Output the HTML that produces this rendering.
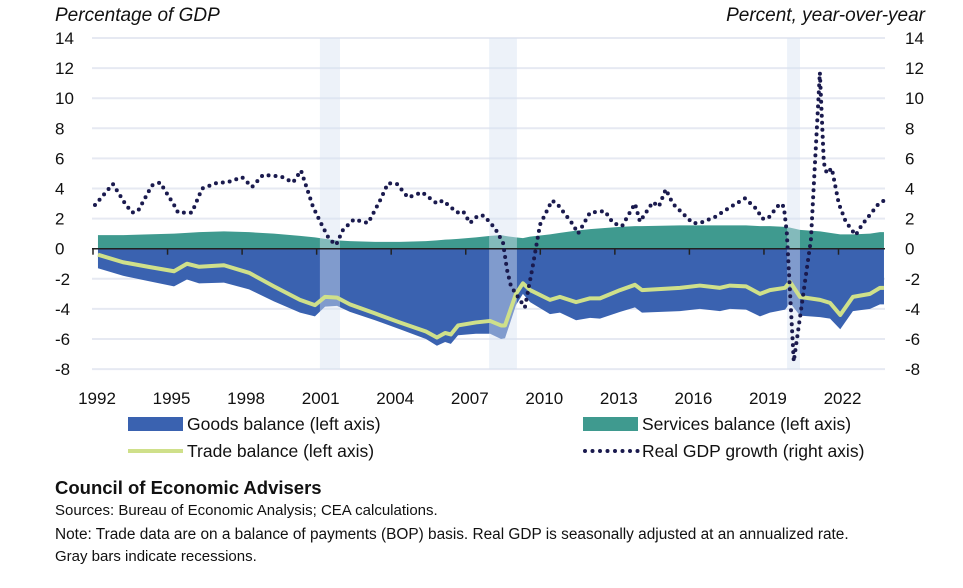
<!DOCTYPE html>
<html><head><meta charset="utf-8"><style>
body{margin:0;background:#fff;font-family:"Liberation Sans",sans-serif;}
svg text{font-family:"Liberation Sans",sans-serif;fill:#111;}
</style></head><body>
<svg id="chart" width="963" height="583" viewBox="0 0 963 583" xmlns="http://www.w3.org/2000/svg">
<text x="55" y="21" font-size="19" font-style="italic">Percentage of GDP</text>
<text x="925" y="21" font-size="19" font-style="italic" text-anchor="end">Percent, year-over-year</text>
<g id="grid"></g><g id="areas"></g><g id="rec"></g><g id="axis"></g><g id="lines"></g>
<g>
<rect x="128" y="417" width="55" height="14" fill="#3a62b0"/>
<text x="187" y="430" font-size="17.5">Goods balance (left axis)</text>
<rect x="583" y="417" width="55" height="14" fill="#3f9a8f"/>
<text x="642" y="430" font-size="17.5">Services balance (left axis)</text>
<line x1="128" y1="451" x2="183" y2="451" stroke="#cfe08a" stroke-width="4"/>
<text x="187" y="457" font-size="17.5">Trade balance (left axis)</text>
<line x1="585" y1="451" x2="638" y2="451" stroke="#1a1a4e" stroke-width="4" stroke-linecap="round" stroke-dasharray="0 7.5"/>
<text x="642" y="457" font-size="17.5">Real GDP growth (right axis)</text>
</g>
<text x="55" y="494" font-size="18.5" font-weight="bold">Council of Economic Advisers</text>
<text x="55" y="515" font-size="15">Sources: Bureau of Economic Analysis; CEA calculations.</text>
<text x="55" y="539" font-size="15.4">Note: Trade data are on a balance of payments (BOP) basis. Real GDP is seasonally adjusted at an annualized rate.</text>
<text x="55" y="561" font-size="15">Gray bars indicate recessions.</text>
</svg>
<script>
const years=[1992.2,1993.21,1994.21,1995.26,1995.78,1996.27,1997.27,1998.28,1999.28,2000.33,2000.93,2001.34,2001.82,2002.34,2003.35,2004.35,2005.40,2005.84,2006.17,2006.4,2006.69,2007.41,2007.98,2008.42,2008.58,2009.02,2009.30,2009.59,2010.39,2010.79,2011.44,2012.0,2012.4,2013.21,2013.81,2014.09,2015.62,2016.42,2017.23,2017.63,2018.28,2018.84,2019.24,2019.85,2020.05,2020.45,2021.26,2021.66,2022.07,2022.58,2023.27,2023.67,2023.83];
const services=[0.9,0.9,0.95,1.0,1.05,1.1,1.15,1.1,1.0,0.85,0.75,0.65,0.55,0.5,0.45,0.45,0.5,0.55,0.6,0.62,0.65,0.75,0.85,0.9,0.85,0.75,0.7,0.8,0.95,1.05,1.2,1.3,1.35,1.45,1.5,1.5,1.55,1.55,1.55,1.55,1.55,1.5,1.5,1.45,1.4,1.25,1.15,1.05,0.95,0.95,1.0,1.1,1.1];
const goods=[-1.3,-1.8,-2.15,-2.5,-2.05,-2.3,-2.25,-2.7,-3.5,-4.25,-4.5,-3.85,-3.8,-4.2,-4.75,-5.35,-6.0,-6.45,-6.2,-6.32,-5.75,-5.65,-5.65,-6.0,-5.95,-3.75,-3.0,-3.55,-4.35,-4.25,-4.75,-4.6,-4.65,-4.2,-3.9,-4.25,-4.15,-4.0,-4.15,-4.0,-4.05,-4.5,-4.25,-4.05,-3.6,-4.45,-4.55,-4.65,-5.35,-4.15,-4.0,-3.7,-3.7];
const trade=[-0.4,-0.9,-1.2,-1.5,-1.0,-1.2,-1.1,-1.6,-2.5,-3.4,-3.75,-3.2,-3.25,-3.7,-4.3,-4.9,-5.5,-5.9,-5.6,-5.7,-5.1,-4.9,-4.8,-5.1,-5.1,-3.0,-2.3,-2.75,-3.4,-3.2,-3.55,-3.3,-3.3,-2.75,-2.4,-2.75,-2.6,-2.45,-2.6,-2.45,-2.5,-3.0,-2.75,-2.6,-2.2,-3.2,-3.4,-3.6,-4.4,-3.2,-3.0,-2.6,-2.6];
const gdpYears=[1992.08,1992.8,1993.29,1993.57,1993.81,1994.37,1994.7,1995.3,1995.42,1995.98,1996.39,1997.03,1997.39,1998.0,1998.4,1998.84,1999.57,2000.05,2000.37,2000.61,2000.85,2001.17,2001.5,2001.78,2002.06,2002.5,2003.07,2003.55,2003.87,2004.23,2004.68,2005.24,2005.84,2006.08,2006.65,2006.89,2007.17,2007.49,2007.73,2008.18,2008.5,2008.66,2008.82,2009.38,2009.67,2009.99,2010.47,2010.67,2011.32,2011.52,2012.0,2012.6,2012.93,2013.29,2013.81,2014.01,2014.53,2014.77,2015.05,2015.33,2016.13,2016.42,2017.02,2017.63,2018.24,2018.72,2018.92,2019.16,2019.64,2019.8,2019.92,2020.2,2020.89,2021.01,2021.25,2021.41,2021.53,2021.73,2022.01,2022.29,2022.69,2022.93,2023.62,2023.83];
const gdp=[2.9,4.3,3.0,2.4,2.5,4.2,4.4,2.8,2.4,2.4,4.0,4.4,4.4,4.75,4.1,4.9,4.8,4.4,5.2,4.0,2.8,1.7,0.65,0.25,1.25,1.95,1.7,3.2,4.35,4.3,3.4,3.75,3.0,3.2,2.4,2.5,1.7,2.2,2.2,1.35,0.4,-1.4,-2.5,-3.9,-1.4,1.6,3.2,3.0,1.6,1.0,2.4,2.5,1.7,1.5,3.0,1.8,3.1,2.8,3.95,3.0,1.7,1.7,2.1,2.75,3.35,2.6,2.0,2.0,3.0,2.8,1.05,-7.5,0.6,4.35,11.7,5.7,5.0,5.35,3.0,1.8,0.9,1.55,3.0,3.2];
const recessions=[[2001.13,2001.94],[2007.94,2009.06],[2019.93,2020.45]];
const yTicks=[14,12,10,8,6,4,2,0,-2,-4,-6,-8];
const xTicks=[1992,1995,1998,2001,2004,2007,2010,2013,2016,2019,2022];

const NS='http://www.w3.org/2000/svg';
const X=yr=>93+24.85*(yr-1992);
const Y=v=>248.7-15.05*v;
const PL=92,PR=885;
function mk(tag,attrs,parent){const e=document.createElementNS(NS,tag);for(const k in attrs)e.setAttribute(k,attrs[k]);document.getElementById(parent).appendChild(e);return e;}
yTicks.forEach(v=>{
  if(v!==0){const g=mk('line',{x1:PL,x2:PR,y1:Y(v),y2:Y(v),stroke:'#e6e9f2','stroke-width':2},'grid');
  
  }
  const l=mk('text',{x:55,y:Y(v)+6,'font-size':17},'axis');l.textContent=v;
  
  
  const r=mk('text',{x:905,y:Y(v)+6,'font-size':17},'axis');r.textContent=v;
  
  
});
function area(vals,color,name){
  let d='M'+X(years[0])+','+Y(0);
  years.forEach((yr,i)=>d+=' L'+X(yr)+','+Y(vals[i]));
  d+=' L'+X(years[years.length-1])+','+Y(0)+' Z';
  const p=mk('path',{d:d,fill:color},'areas');
  
  
}
area(services,'#3f9a8f','services-area');
area(goods,'#3a62b0','goods-area');
recessions.forEach(r=>{
  const b=mk('rect',{x:X(r[0]),y:Y(14),width:X(r[1])-X(r[0]),height:Y(-8)-Y(14),fill:'rgba(215,226,242,0.45)'},'rec');
  
  
});
const z=mk('line',{x1:PL,x2:PR,y1:Y(0),y2:Y(0),stroke:'#222','stroke-width':1.5},'axis');


xTicks.forEach(yr=>{
  const t=mk('line',{x1:X(yr),x2:X(yr),y1:Y(0),y2:Y(0)+6,stroke:'#222','stroke-width':1.5},'axis');
  
  
  const l=mk('text',{x:X(yr)+4,y:404,'font-size':17,'text-anchor':'middle'},'axis');l.textContent=yr;
  
  
});
const tp=mk('polyline',{points:years.map((yr,i)=>X(yr)+','+Y(trade[i])).join(' '),fill:'none',stroke:'#cfe08a','stroke-width':4,'stroke-linejoin':'round'},'lines');


const gp=mk('polyline',{points:gdpYears.map((yr,i)=>X(yr)+','+Y(gdp[i])).join(' '),fill:'none',stroke:'#1a1a4e','stroke-width':4,'stroke-linecap':'round','stroke-dasharray':'0 7'},'lines');


</script>
</body></html>
